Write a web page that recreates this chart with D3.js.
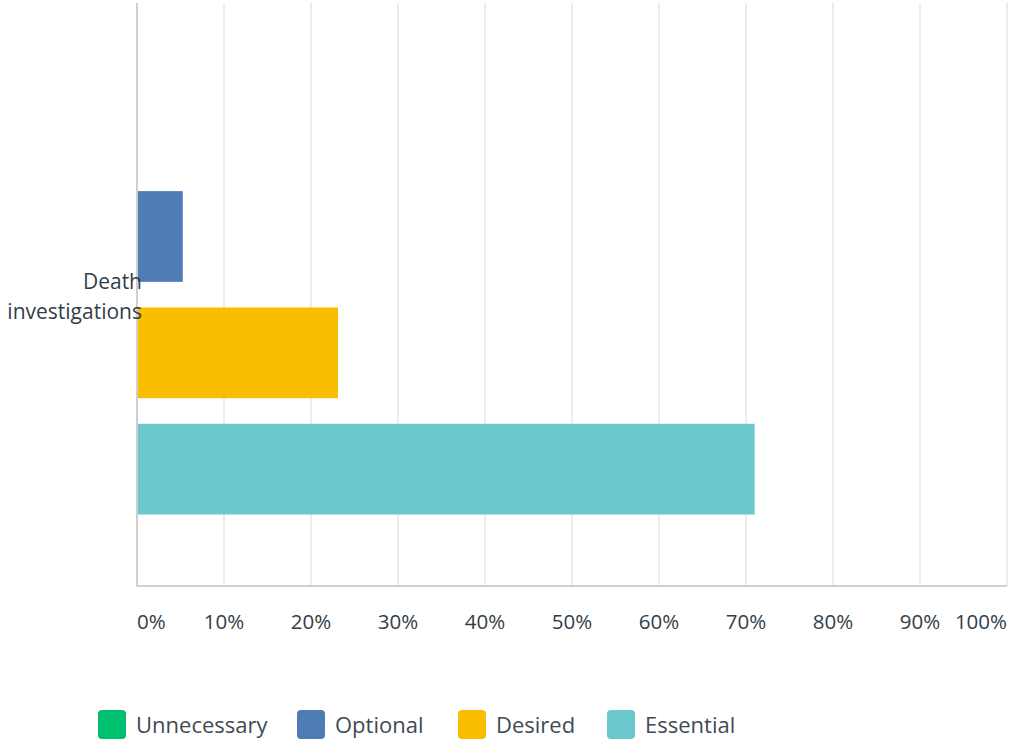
<!DOCTYPE html>
<html><head><meta charset="utf-8">
<script src="https://cdn.jsdelivr.net/npm/d3@7"></script>
<style>body{margin:0;background:#fff;} svg{display:block;font-family:"Open Sans",sans-serif;}</style>
</head><body><svg id="c" width="1011" height="742"></svg>
<script>
const categories = ["Death investigations"];
const seriesNames = ["Unnecessary", "Optional", "Desired", "Essential"];
const seriesColors = ["#00bf6f", "#507cb6", "#f9be00", "#6bc8cd"];
const seriesValues = [0, 5.26, 23.1, 71.0];
const tickValues = [0,10,20,30,40,50,60,70,80,90,100];
const tickLabels = ["0%","10%","20%","30%","40%","50%","60%","70%","80%","90%","100%"];

const svg = d3.select("#c");
const m = {left:137, right:1007, top:3, bottom:586};
const x = d3.scaleLinear().domain([0,100]).range([m.left, m.right]);
const yCat = d3.scaleBand().domain(categories).range([m.top, m.bottom]);
const ySer = d3.scaleBand().domain(seriesNames).range([71.3, 518]).paddingInner(0.22).paddingOuter(0.03);
const textColor = "#333e48";

// grid
svg.append("g").selectAll("line").data(tickValues.slice(1)).join("line")
  .attr("x1", d=>x(d)).attr("x2", d=>x(d)).attr("y1", m.top).attr("y2", m.bottom)
  .attr("stroke", "#ececec").attr("stroke-width", 2);

// bars
svg.append("g").selectAll("rect").data(seriesValues.map((v,i)=>({v,i}))).join("rect")
  .attr("x", x(0)).attr("y", d=>ySer(seriesNames[d.i]))
  .attr("width", d=>x(d.v)-x(0)).attr("height", ySer.bandwidth())
  .attr("fill", d=>seriesColors[d.i]);

// axes lines
svg.append("line").attr("x1", m.left).attr("x2", m.left).attr("y1", m.top).attr("y2", m.bottom+1)
  .attr("stroke", "#d0d0d0").attr("stroke-width", 2);
svg.append("line").attr("x1", m.left).attr("x2", m.right).attr("y1", m.bottom).attr("y2", m.bottom)
  .attr("stroke", "#d0d0d0").attr("stroke-width", 2);

// tick labels
svg.append("g").selectAll("text").data(tickValues).join("text")
  .attr("x", d=>x(d)).attr("y", 629)
  .attr("text-anchor", (d,i)=> i===0 ? "start" : (i===tickValues.length-1 ? "end" : "middle"))
  .attr("font-size", 20.5).attr("fill", textColor)
  .text((d,i)=>tickLabels[i]);

// category label
categories.forEach(c=>{
  const cy = yCat(c) + yCat.bandwidth()/2;
  const t = svg.append("text").attr("text-anchor","end").attr("font-size",21).attr("fill",textColor);
  const words = ["Death","investigations"];
  words.forEach((w,i)=>t.append("tspan").attr("x",142).attr("y", cy - 6 + i*30).text(w));
});

// legend
const legX = [98, 297, 458, 607];
const lg = svg.append("g");
seriesNames.forEach((s,i)=>{
  lg.append("rect").attr("x", legX[i]).attr("y", 710).attr("width", 28).attr("height", 29)
    .attr("rx", 4).attr("fill", seriesColors[i]);
  lg.append("text").attr("x", legX[i]+38).attr("y", 733).attr("font-size", 22)
    .attr("fill", "#3f4a54").text(s);
});
</script></body></html>
